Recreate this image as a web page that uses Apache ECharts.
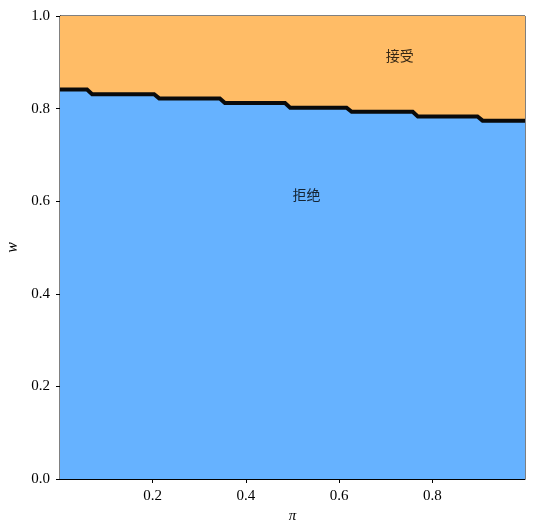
<!DOCTYPE html>
<html>
<head>
<meta charset="utf-8">
<script src="https://cdn.jsdelivr.net/npm/echarts@6/dist/echarts.min.js"></script>
<style>
html,body{margin:0;padding:0;background:#fff;}
#chart{width:535px;height:531px;}
</style>
</head>
<body>
<div id="chart"></div>
<script>
// Decision boundary (pi, w)
var piBoundary = [0.001, 0.059, 0.070, 0.203, 0.214, 0.344, 0.355, 0.484, 0.495, 0.616, 0.627, 0.758, 0.769, 0.897, 0.908, 0.999];
var wBoundary  = [0.841, 0.841, 0.831, 0.831, 0.822, 0.822, 0.812, 0.812, 0.802, 0.802, 0.793, 0.793, 0.783, 0.783, 0.774, 0.774];
var xTicks = [0.2, 0.4, 0.6, 0.8];
var yTicks = [0.0, 0.2, 0.4, 0.6, 0.8, 1.0];
var regionLabels = ['接受', '拒绝'];
var regionLabelPos = [[0.7, 0.9], [0.5, 0.6]];

var boundary = piBoundary.map(function (p, i) { return [p, wBoundary[i]]; });
var topEdge = piBoundary.map(function (p) { return [p, 1]; });

var serif = '"Liberation Serif", "DejaVu Serif", serif';
var chart = echarts.init(document.getElementById('chart'));
chart.setOption({
  animation: false,
  backgroundColor: '#ffffff',
  grid: { left: 60, right: 10, top: 16, bottom: 52, outerBoundsMode: 'none', containLabel: false,
    show: true, borderColor: '#000', borderWidth: 1, backgroundColor: 'transparent' },
  xAxis: {
    type: 'value', min: 0.001, max: 0.999,
    name: 'π', nameLocation: 'middle', nameGap: 27,
    nameTextStyle: { fontFamily: serif, fontStyle: 'italic', fontSize: 15, color: '#000' },
    axisLine: { show: true, onZero: false, lineStyle: { color: '#000', width: 1 } },
    axisTick: { show: true, length: 4, customValues: xTicks, lineStyle: { color: '#000' } },
    axisLabel: { customValues: xTicks, margin: 10, color: '#000', fontFamily: serif, fontSize: 15,
      formatter: function (v) { return v.toFixed(1); } },
    splitLine: { show: false }
  },
  yAxis: {
    type: 'value', min: 0, max: 1, interval: 0.2,
    name: 'w', nameLocation: 'middle', nameGap: 33,
    nameTextStyle: { fontFamily: serif, fontStyle: 'italic', fontSize: 16, color: '#000' },
    axisLine: { show: true, onZero: false, lineStyle: { color: '#000', width: 1 } },
    axisTick: { show: true, length: 4, customValues: yTicks, lineStyle: { color: '#000' } },
    axisLabel: { customValues: yTicks, margin: 10, color: '#000', fontFamily: serif, fontSize: 15,
      formatter: function (v) { return v.toFixed(1); } },
    splitLine: { show: false }
  },
  series: [
    {
      name: 'accept', type: 'line', data: topEdge, symbol: 'none', z: 1,
      lineStyle: { width: 0 }, areaStyle: { color: '#ffbc66', opacity: 1 }
    },
    {
      name: 'reject', type: 'line', data: boundary, symbol: 'none', z: 2,
      lineStyle: { width: 0 }, areaStyle: { color: '#66b2ff', opacity: 1 }
    },
    {
      name: 'boundary', type: 'line', data: boundary, symbol: 'none', z: 3,
      lineStyle: { width: 4, color: '#0a0a0a', join: 'miter' }
    },
    {
      name: 'labels', type: 'scatter', symbolSize: 0, z: 4,
      data: regionLabelPos.map(function (p, i) { return { value: p, name: regionLabels[i] }; }),
      label: {
        show: true, position: [0, 0], align: 'left', verticalAlign: 'bottom',
        formatter: function (d) { return d.name; },
        color: '#000', fontSize: 14, fontFamily: '"Noto Sans CJK SC", sans-serif'
      }
    }
  ]
});
</script>
</body>
</html>
